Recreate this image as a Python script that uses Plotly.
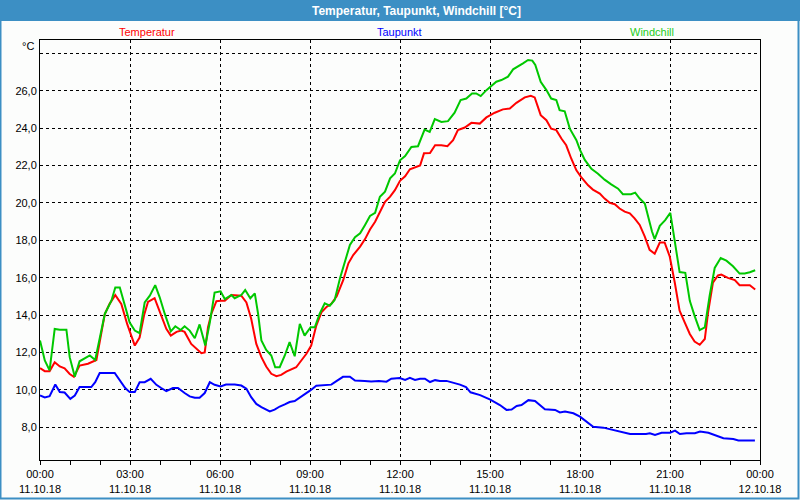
import pandas as pd
import plotly.graph_objects as go

# ---- data (time in hours after 11.10.18 00:00, values in °C) ----
temp_h = [0.00, 0.16, 0.32, 0.49, 0.66, 0.82, 0.99, 1.13, 1.32, 1.60, 1.88, 2.16, 2.32, 2.51, 2.71, 2.91,
          3.16, 3.32, 3.47, 3.60, 3.82, 3.99, 4.21, 4.36, 4.55, 4.71, 4.82, 5.04, 5.21, 5.38, 5.49, 5.60,
          5.71, 5.88, 6.02, 6.16, 6.38, 6.54, 6.71, 6.88, 7.04, 7.21, 7.38, 7.54, 7.71, 7.88, 8.04, 8.21,
          8.38, 8.54, 8.71, 8.88, 9.04, 9.21, 9.38, 9.54, 9.71, 9.89, 10.11, 10.28, 10.44, 10.67, 10.83,
          11.00, 11.17, 11.33, 11.50, 11.67, 11.83, 12.00, 12.17, 12.33, 12.50, 12.67, 12.80, 13.00, 13.17,
          13.38, 13.58, 13.77, 13.93, 14.16, 14.38, 14.66, 14.88, 15.16, 15.43, 15.66, 15.88, 16.16, 16.36,
          16.49, 16.69, 16.88, 17.04, 17.21, 17.38, 17.54, 17.71, 17.88, 18.04, 18.27, 18.43, 18.66, 18.82,
          18.99, 19.16, 19.32, 19.49, 19.66, 19.82, 19.99, 20.16, 20.32, 20.49, 20.66, 20.82, 20.99, 21.16,
          21.32, 21.49, 21.66, 21.82, 21.99, 22.16, 22.27, 22.43, 22.60, 22.71, 22.93, 23.16, 23.32, 23.49,
          23.66, 23.84]
temp_v = [11.16, 11.00, 11.00, 11.48, 11.25, 11.15, 10.85, 10.70, 11.30, 11.40, 11.60, 14.06, 14.60, 15.07, 14.60, 13.50,
          12.37, 12.80, 14.00, 14.70, 14.90, 14.20, 13.26, 12.90, 13.10, 13.17, 13.10, 12.46, 12.20, 11.96, 12.00, 13.35,
          14.06, 14.74, 14.77, 14.77, 15.07, 15.07, 15.04, 14.68, 13.80, 12.46, 11.75, 11.25, 10.86, 10.73, 10.80, 10.98,
          11.12, 11.21, 11.57, 11.93, 12.37, 13.44, 14.15, 14.42, 14.60, 15.00, 15.88, 16.77, 17.21, 17.66, 18.05,
          18.58, 18.99, 19.53, 20.06, 20.33, 20.68, 21.18, 21.42, 21.80, 21.92, 22.00, 22.65, 22.67, 23.08,
          23.08, 23.03, 23.35, 23.89, 24.03, 24.28, 24.24, 24.57, 24.82, 25.00, 25.05, 25.35, 25.64, 25.73,
          25.64, 24.69, 24.42, 23.97, 23.89, 23.44, 23.08, 22.36, 21.74, 21.38, 20.94, 20.71, 20.50, 20.23,
          20.00, 19.93, 19.70, 19.53, 19.44, 19.17, 18.82, 18.20, 17.49, 17.28, 17.88, 17.88, 17.14, 15.73,
          14.23, 13.61, 12.99, 12.58, 12.41, 12.72, 14.14, 15.73, 16.12, 16.17, 15.99, 15.87, 15.60, 15.60,
          15.60, 15.37]

dew_h = [0.00, 0.16, 0.32, 0.51, 0.66, 0.82, 1.01, 1.16, 1.32, 1.71, 1.84, 1.99, 2.49, 2.66, 2.84, 2.99,
         3.16, 3.32, 3.49, 3.69, 3.88, 4.04, 4.21, 4.43, 4.60, 4.82, 4.99, 5.16, 5.32, 5.49, 5.66, 5.82,
         6.02, 6.20, 6.49, 6.71, 6.88, 7.04, 7.21, 7.38, 7.54, 7.66, 7.82, 7.99, 8.16, 8.32, 8.49, 8.66,
         8.82, 9.01, 9.21, 9.38, 9.71, 9.88, 10.10, 10.33, 10.50, 10.82, 11.04, 11.30, 11.55, 11.71, 11.99,
         12.17, 12.33, 12.50, 12.67, 12.83, 13.00, 13.17, 13.33, 13.55, 13.78, 14.00, 14.20, 14.35, 14.67,
         15.01, 15.33, 15.55, 15.72, 15.89, 16.05, 16.28, 16.50, 16.83, 17.17, 17.33, 17.50, 17.78, 18.00,
         18.22, 18.44, 18.78, 19.00, 19.33, 19.67, 20.20, 20.33, 20.50, 20.72, 21.00, 21.17, 21.33, 21.55,
         21.83, 22.00, 22.28, 22.50, 22.78, 23.11, 23.28, 23.83]
dew_v = [9.70, 9.60, 9.66, 10.29, 9.88, 9.86, 9.52, 9.70, 10.15, 10.15, 10.41, 10.90, 10.90, 10.50, 10.10, 9.88,
         9.88, 10.41, 10.41, 10.59, 10.27, 10.10, 9.93, 10.10, 10.10, 9.83, 9.65, 9.58, 9.58, 9.83, 10.41, 10.27,
         10.18, 10.29, 10.29, 10.23, 10.06, 9.61, 9.25, 9.08, 8.94, 8.85, 8.94, 9.11, 9.22, 9.35, 9.40, 9.58,
         9.74, 9.97, 10.22, 10.25, 10.28, 10.47, 10.70, 10.70, 10.50, 10.48, 10.45, 10.48, 10.44, 10.60, 10.63,
         10.53, 10.64, 10.53, 10.60, 10.60, 10.42, 10.52, 10.48, 10.48, 10.38, 10.28, 10.15, 9.87, 9.72,
         9.48, 9.19, 8.93, 8.95, 9.14, 9.19, 9.45, 9.41, 8.96, 8.93, 8.79, 8.84, 8.75, 8.57,
         8.30, 8.03, 7.98, 7.89, 7.77, 7.64, 7.64, 7.68, 7.59, 7.71, 7.71, 7.82, 7.64, 7.68,
         7.68, 7.77, 7.71, 7.59, 7.41, 7.37, 7.29, 7.29]

chill_h = [0.00, 0.16, 0.32, 0.49, 0.66, 0.88, 0.99, 1.16, 1.32, 1.49, 1.66, 1.84, 1.98, 2.16, 2.38, 2.51,
           2.66, 2.82, 2.99, 3.16, 3.32, 3.49, 3.66, 3.84, 3.99, 4.16, 4.36, 4.51, 4.69, 4.82, 4.99, 5.16,
           5.32, 5.51, 5.66, 5.82, 6.02, 6.16, 6.38, 6.49, 6.71, 6.84, 7.01, 7.16, 7.27, 7.38, 7.54, 7.71,
           7.84, 7.99, 8.16, 8.32, 8.49, 8.66, 8.82, 9.02, 9.16, 9.32, 9.49, 9.66, 9.82, 10.00, 10.17, 10.33,
           10.50, 10.67, 10.83, 11.00, 11.17, 11.33, 11.50, 11.67, 11.83, 12.00, 12.17, 12.38, 12.60, 12.82,
           12.99, 13.16, 13.38, 13.60, 13.82, 14.02, 14.21, 14.40, 14.54, 14.69, 14.88, 15.21, 15.38, 15.60,
           15.77, 15.93, 16.10, 16.27, 16.41, 16.51, 16.69, 16.88, 17.04, 17.21, 17.32, 17.49, 17.66, 17.88,
           18.00, 18.16, 18.38, 18.60, 18.82, 19.04, 19.27, 19.43, 19.70, 19.84, 19.99, 20.16, 20.30, 20.40,
           20.49, 20.66, 20.84, 21.01, 21.16, 21.32, 21.51, 21.66, 21.82, 21.99, 22.16, 22.32, 22.49, 22.69,
           22.88, 23.10, 23.32, 23.49, 23.66, 23.84]
chill_v = [12.64, 11.57, 11.04, 13.26, 13.22, 13.22, 11.75, 10.70, 11.53, 11.70, 11.84, 11.60, 12.64, 14.06, 14.77, 15.48,
           15.48, 14.60, 13.60, 13.17, 13.03, 14.68, 15.04, 15.60, 14.95, 14.06, 13.13, 13.40, 13.20, 13.40, 13.17, 12.76,
           13.50, 12.37, 13.60, 15.20, 15.27, 14.86, 15.07, 14.90, 15.07, 15.34, 14.90, 15.16, 14.06, 12.64, 12.14, 11.84,
           11.21, 11.21, 11.84, 12.55, 11.80, 13.53, 12.90, 13.35, 13.35, 14.06, 14.63, 14.50, 14.80, 15.97, 16.95, 17.75,
           18.16, 18.37, 18.81, 19.30, 19.47, 20.33, 20.60, 21.31, 21.57, 22.28, 22.50, 22.99, 23.03, 23.92,
           23.80, 24.48, 24.33, 24.37, 24.82, 25.50, 25.58, 25.85, 25.85, 25.71, 26.03, 26.48, 26.57, 26.75,
           27.14, 27.28, 27.46, 27.64, 27.61, 27.37, 26.48, 26.03, 25.58, 25.50, 24.96, 24.90, 23.97, 23.35,
           22.83, 22.30, 21.82, 21.56, 21.24, 20.99, 20.76, 20.46, 20.46, 20.55, 20.23, 19.97, 19.08, 18.47,
           18.06, 18.77, 19.08, 19.47, 17.94, 16.30, 16.26, 14.76, 13.96, 13.20, 13.34, 15.02, 16.52, 17.05,
           16.91, 16.61, 16.22, 16.22, 16.29, 16.40]

y_ticks = [8, 10, 12, 14, 16, 18, 20, 22, 24, 26, 28]
y_ticktext = ["8,0", "10,0", "12,0", "14,0", "16,0", "18,0", "20,0", "22,0", "24,0", "26,0", ""]

series_names = ["Temperatur", "Taupunkt", "Windchill"]
series_colors = ["#ff0000", "#0000ff", "#00c800"]
label_colors = ["#ff0000", "#0000ff", "#22cc22"]

base = pd.Timestamp("2018-10-11 00:00")


def to_time(hours):
    return [base + pd.to_timedelta(h, unit="h") for h in hours]


fig = go.Figure()
for name, hrs, vals, col in zip(series_names, [temp_h, dew_h, chill_h],
                                [temp_v, dew_v, chill_v], series_colors):
    fig.add_trace(go.Scatter(x=to_time(hrs), y=vals, mode="lines", name=name,
                             line=dict(color=col, width=2), hoverinfo="skip"))

W, H = 800, 500
L, R, T, B = 40, 40, 40, 40
PW, PH = W - L - R, H - T - B


def px_x(x):
    return (x - L) / PW


def px_y(y):
    return (H - B - y) / PH


FONT = "Liberation Sans, Arial, sans-serif"
frame_blue = "#3c8fc4"

shapes = [
    # title bar
    dict(type="rect", xref="paper", yref="paper", x0=px_x(0), x1=px_x(W), y0=px_y(21), y1=px_y(0),
         fillcolor=frame_blue, line=dict(width=0), layer="below"),
    # window frame
    dict(type="rect", xref="paper", yref="paper", x0=px_x(0.5), x1=px_x(W - 1.5), y0=px_y(H - 1.5), y1=px_y(0),
         fillcolor="rgba(0,0,0,0)", line=dict(color=frame_blue, width=2), layer="below"),
]

annotations = [
    dict(text="<b>Temperatur, Taupunkt, Windchill [°C]</b>", xref="paper", yref="paper",
         x=px_x(416), y=px_y(10.5), showarrow=False, xanchor="center", yanchor="middle",
         font=dict(family=FONT, size=12, color="white")),
    dict(text="°C", xref="paper", yref="paper", x=px_x(36), y=px_y(46.5), showarrow=False,
         xanchor="right", yanchor="middle", font=dict(family=FONT, size=11, color="black")),
]
for name, cx, col in zip(series_names, [147, 399, 652], label_colors):
    annotations.append(dict(text=name, xref="paper", yref="paper", x=px_x(cx), y=px_y(31.5),
                            showarrow=False, xanchor="center", yanchor="middle",
                            font=dict(family=FONT, size=11, color=col)))

fig.update_layout(
    width=W, height=H, autosize=False,
    margin=dict(l=L, r=R, t=T, b=B, pad=0),
    paper_bgcolor="#fcfdfc",
    plot_bgcolor="#fcfdfc",
    showlegend=False,
    font=dict(family=FONT, size=11, color="black"),
    shapes=shapes,
    annotations=annotations,
)

fig.update_xaxes(
    type="date", automargin=False,
    range=[base, base + pd.Timedelta(hours=24)],
    tickmode="linear", tick0=base, dtick=3 * 3600 * 1000,
    tickformat="%H:%M<br>%d.%m.%y",
    ticks="outside", ticklen=4, tickcolor="black",
    minor=dict(dtick=3600 * 1000, ticks="outside", ticklen=4, tickcolor="black", showgrid=False),
    showline=True, linecolor="black", linewidth=1, mirror=True,
    showgrid=True, gridcolor="black", gridwidth=1, griddash="3px,3px",
    zeroline=False,
    tickfont=dict(family=FONT, size=11, color="black"),
)
fig.update_yaxes(
    automargin=False,
    range=[6.25, 28.71],
    tickmode="array", tickvals=y_ticks, ticktext=y_ticktext,
    ticks="", showline=True, linecolor="black", linewidth=1, mirror=True,
    showgrid=True, gridcolor="black", gridwidth=1, griddash="3px,3px",
    zeroline=False,
    tickfont=dict(family=FONT, size=11, color="black"),
)

fig.write_html("out.html",
               config={"displayModeBar": False, "responsive": False},
               post_script="document.body.style.margin='0px';document.body.style.overflow='hidden';")
